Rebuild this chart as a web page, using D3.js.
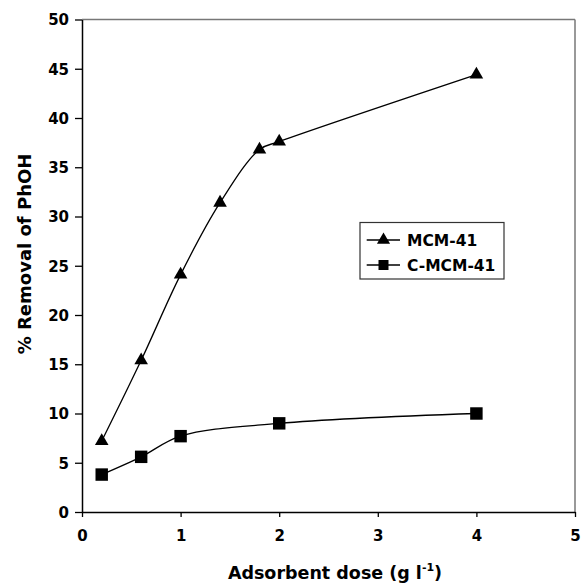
<!DOCTYPE html>
<html>
<head>
<meta charset="utf-8">
<script src="https://cdn.jsdelivr.net/npm/d3@7/dist/d3.min.js"></script>
<style>
  html, body { margin: 0; padding: 0; background: #fff; }
  svg { display: block; }
  text { font-family: "DejaVu Sans", sans-serif; font-weight: bold; fill: #000; }
</style>
</head>
<body>
<script>
const doseMCM = [0.2, 0.6, 1.0, 1.4, 1.8, 2.0, 4.0];
const removalMCM = [7.2, 15.4, 24.1, 31.4, 36.8, 37.6, 44.4];
const doseCMCM = [0.2, 0.6, 1.0, 2.0, 4.0];
const removalCMCM = [3.8, 5.6, 7.7, 9.0, 10.0];
const seriesNames = ["MCM-41", "C-MCM-41"];
const xTicks = [0, 1, 2, 3, 4, 5];
const yTicks = [0, 5, 10, 15, 20, 25, 30, 35, 40, 45, 50];

(function () {
const W = 581, H = 585;
const pLeft = 82, pRight = 575, pTop = 19.5, pBottom = 512;

const svg = d3.select("body").append("svg").attr("width", W).attr("height", H);

const x = d3.scaleLinear().domain([0, 5]).range([pLeft, pRight]);
const y = d3.scaleLinear().domain([0, 50]).range([pBottom, pTop]);

// frame top & right (gray)
svg.append("line").attr("x1", pLeft).attr("x2", pRight).attr("y1", pTop).attr("y2", pTop)
  .attr("stroke", "#777").attr("stroke-width", 1.5);
svg.append("line").attr("x1", pRight).attr("x2", pRight).attr("y1", pTop).attr("y2", pBottom)
  .attr("stroke", "#777").attr("stroke-width", 1.5);

// axes
const xAxis = svg.append("g").attr("transform", `translate(0,${pBottom})`)
  .call(d3.axisBottom(x).tickValues(xTicks).tickSize(5).tickSizeOuter(0).tickPadding(12).tickFormat(d3.format("d")));
const yAxis = svg.append("g").attr("transform", `translate(${pLeft},0)`)
  .call(d3.axisLeft(y).tickValues(yTicks).tickSize(7).tickSizeOuter(0).tickPadding(6).tickFormat(d3.format("d")));

[xAxis, yAxis].forEach(g => {
  g.select(".domain").attr("stroke", "#000").attr("stroke-width", 1.5);
  g.selectAll(".tick line").attr("stroke", "#000").attr("stroke-width", 1.3);
  g.selectAll(".tick text").attr("font-size", 15).attr("font-family", "DejaVu Sans").attr("font-weight", "bold").attr("fill", "#000");
});
xAxis.selectAll(".tick text").attr("dy", "0.71em").attr("y", 18);
yAxis.selectAll(".tick text").attr("dy", "0.36em");

// axis titles
const xt = svg.append("text").attr("x", 335).attr("y", 579).attr("text-anchor", "middle").attr("font-size", 17.5);
xt.append("tspan").text("Adsorbent dose (g l");
xt.append("tspan").attr("font-size", 11).attr("dy", -8).text("-1");
xt.append("tspan").attr("dy", 8).text(")");

svg.append("text").attr("transform", "translate(31,254) rotate(-90)")
  .attr("text-anchor", "middle").attr("font-size", 18).text("% Removal of PhOH");

// lines
const line = d3.line().x(d => x(d[0])).y(d => y(d[1])).curve(d3.curveCatmullRom.alpha(0.5));
const dataMCM = doseMCM.map((d, i) => [d, removalMCM[i]]);
const dataCMCM = doseCMCM.map((d, i) => [d, removalCMCM[i]]);

svg.append("path").datum(dataMCM).attr("d", line).attr("fill", "none").attr("stroke", "#000").attr("stroke-width", 1.3);
svg.append("path").datum(dataCMCM).attr("d", line).attr("fill", "none").attr("stroke", "#000").attr("stroke-width", 1.3);

const tri = d3.symbol().type(d3.symbolTriangle).size(80);
const sq = d3.symbol().type(d3.symbolSquare).size(155);

svg.selectAll(".tri").data(dataMCM).enter().append("path").attr("class", "tri")
  .attr("d", tri).attr("transform", d => `translate(${x(d[0])},${y(d[1])})`).attr("fill", "#000");
svg.selectAll(".sq").data(dataCMCM).enter().append("path").attr("class", "sq")
  .attr("d", sq).attr("transform", d => `translate(${x(d[0])},${y(d[1])})`).attr("fill", "#000");

// legend
const lg = svg.append("g");
lg.append("rect").attr("x", 360).attr("y", 222.5).attr("width", 144).attr("height", 56.5)
  .attr("fill", "#fff").attr("stroke", "#333").attr("stroke-width", 1.2);
const rows = [{name: seriesNames[0], sym: d3.symbol().type(d3.symbolTriangle).size(75), yy: 240},
              {name: seriesNames[1], sym: d3.symbol().type(d3.symbolSquare).size(100), yy: 265}];
rows.forEach(r => {
  lg.append("line").attr("x1", 366.7).attr("x2", 400).attr("y1", r.yy).attr("y2", r.yy)
    .attr("stroke", "#000").attr("stroke-width", 1.3);
  lg.append("path").attr("d", r.sym).attr("transform", `translate(383.5,${r.yy})`).attr("fill", "#000");
  lg.append("text").attr("x", 407).attr("y", r.yy).attr("dy", "0.36em").attr("font-size", 15.5).text(r.name);
});
})();
</script>
</body>
</html>
